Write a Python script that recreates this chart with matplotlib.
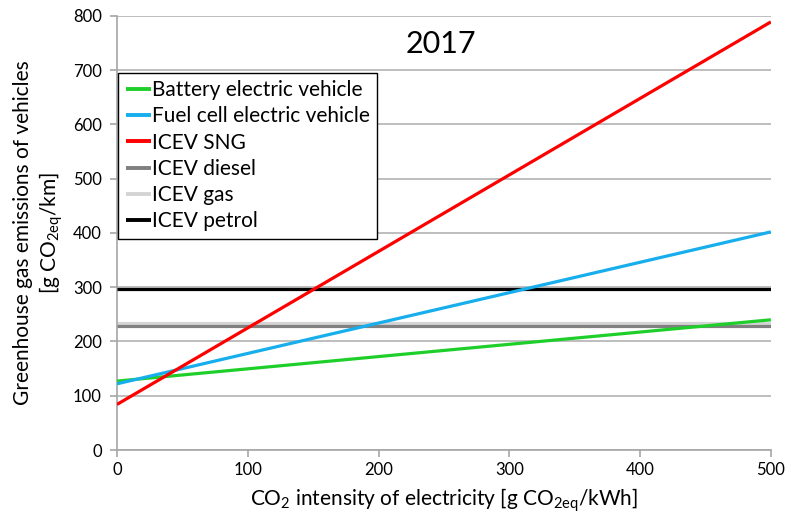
import matplotlib
matplotlib.use("Agg")
import matplotlib.pyplot as plt
import numpy as np

plt.rcParams['font.family'] = ['Lato', 'DejaVu Sans']
plt.rcParams['mathtext.fontset'] = 'custom'
plt.rcParams['mathtext.rm'] = 'Lato'

# CO2 intensity of electricity [g CO2eq/kWh]
x_vals = [0, 500]

# emissions [g CO2eq/km] at x = 0 and x = 500
bev = [127, 240]
fcev = [122, 402]
icev_sng = [84, 789]
icev_diesel = [229, 229]
icev_gas = [234, 234]
icev_petrol = [297, 297]

series = [
    ("Battery electric vehicle", bev, "#1ecf2a", 5),
    ("Fuel cell electric vehicle", fcev, "#16aeec", 5),
    ("ICEV SNG", icev_sng, "#ff0000", 5),
    ("ICEV diesel", icev_diesel, "#808080", 3),
    ("ICEV gas", icev_gas, "#d4d4d4", 2),
    ("ICEV petrol", icev_petrol, "#000000", 4),
]

fig = plt.figure(figsize=(7.98, 5.14), dpi=100)
ax = fig.add_axes([0.1466, 0.1245, 0.8194, 0.8445])

for label, vals, color, z in series:
    ax.plot(x_vals, vals, color=color, linewidth=2.3, label=label, zorder=z,
            solid_capstyle="butt")

ax.set_xlim(0, 500)
ax.set_ylim(0, 800)
ax.set_xticks(np.arange(0, 501, 100))
ax.set_yticks(np.arange(0, 801, 100))
ax.grid(axis="y", color="#b3b3b3", linewidth=1.2, zorder=0)
ax.set_axisbelow(True)

for side in ["top", "right"]:
    ax.spines[side].set_visible(False)
for side in ["left", "bottom"]:
    ax.spines[side].set_color("#a6a6a6")
    ax.spines[side].set_linewidth(1.2)
ax.tick_params(axis="both", colors="#a6a6a6", length=5, width=1.2,
               labelcolor="black", labelsize=12)
ax.tick_params(axis="y", pad=6)

ax.set_xlabel(r"CO$_\mathregular{2}$ intensity of electricity [g CO$_\mathregular{2eq}$/kWh]",
              fontsize=15, labelpad=6)
ax.set_ylabel("Greenhouse gas emissions of vehicles\n" + r"[g CO$_\mathregular{2eq}$/km]",
              fontsize=15, labelpad=6)

ax.text(0.495, 0.935, "2017", transform=ax.transAxes, fontsize=22,
        ha="center", va="center")

leg = ax.legend(loc="upper left", bbox_to_anchor=(0.002, 0.869), fontsize=15,
                handlelength=1.2, handletextpad=0.05, borderpad=0.35,
                borderaxespad=0, labelspacing=0.3, fancybox=False,
                framealpha=1, edgecolor="black")
leg.get_frame().set_linewidth(1.0)
leg.set_zorder(10)
for line in leg.get_lines():
    line.set_linewidth(2.8)

fig.savefig("out.png", dpi=100)
